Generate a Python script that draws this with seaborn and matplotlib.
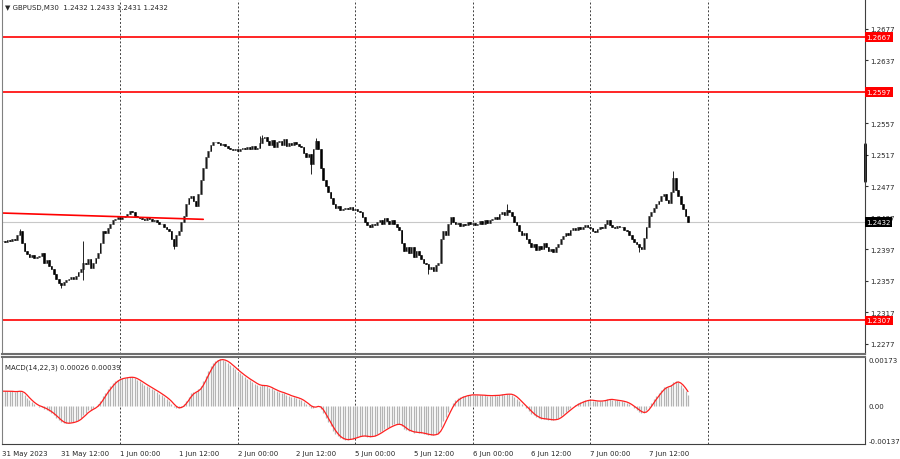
# GBPUSD M30 candlestick chart with support/resistance levels and MACD(14,22,3)

import matplotlib
matplotlib.use("Agg")
import matplotlib.pyplot as plt
import seaborn as sns
import numpy as np
import pandas as pd

base = 1.2000
# closes of each 30-minute bar, in pips above 1.2000 (31 May 00:00 .. 7 Jun 20:00)
close_pips = [
    408, 407, 409, 408, 410, 409, 416, 420, 405, 395,
    391, 388, 390, 386, 388, 389, 392, 380, 384, 376,
    372, 366, 360, 355, 352, 356, 358, 360, 362, 359,
    363, 368, 372, 380, 378, 385, 374, 380, 386, 392,
    405, 420, 418, 424, 430, 434, 436, 438, 436, 438,
    440, 442, 446, 444, 440, 438, 437, 436, 434, 438,
    436, 433, 435, 432, 430, 430, 425, 423, 420, 410,
    402, 415, 420, 432, 440, 455, 462, 465, 458, 452,
    468, 485, 500, 515, 522, 530, 534, 533, 532, 530,
    531, 528, 526, 525, 523, 524, 522, 525, 526, 524,
    527, 525, 528, 524, 526, 532, 538, 540, 535, 530,
    536, 527, 533, 535, 530, 537, 528, 532, 530, 533,
    531, 529, 527, 520, 515, 518, 505, 525, 535, 525,
    500, 485, 478, 470, 462, 455, 450, 452, 447, 449,
    450, 448, 451, 447, 449, 446, 445, 438, 432, 428,
    426, 430, 428, 432, 435, 430, 437, 433, 429, 434,
    430, 425, 422, 405, 395, 400, 392, 400, 388, 395,
    390, 385, 380, 378, 372, 375, 370, 377, 380, 410,
    420, 415, 430, 438, 432, 429, 431, 427, 430, 428,
    432, 429, 431, 428, 430, 433, 429, 434, 431, 435,
    436, 438, 436, 442, 445, 441, 447, 444, 440, 432,
    428, 420, 415, 418, 410, 405, 400, 404, 396, 402,
    398, 405, 400, 395, 398, 394, 400, 404, 410, 414,
    418, 416, 422, 424, 422, 426, 423, 426, 428, 425,
    424, 420, 419, 423, 425, 424, 430, 434, 428, 426,
    424, 427, 425, 426, 422, 420, 415, 410, 407, 404,
    400, 398, 412, 425, 440, 445, 450, 455, 458, 465,
    468, 460, 456, 470, 488, 472, 465, 455, 448, 440,
    432,
]
# notable wicks: bar index -> pips
wick_high = {7: 423, 33: 408, 105: 541, 106: 542, 128: 538, 206: 455, 274: 497}
wick_low = {24: 348, 33: 358, 70: 398, 126: 493, 174: 366, 260: 394}

levels = [1.2667, 1.2597, 1.2307]
last_price = 1.2432
trend_x = [-1, 82]
trend_y = [1.24434, 1.24353]
price_ticks = [1.2277, 1.2317, 1.2357, 1.2397, 1.2437, 1.2477, 1.2517, 1.2557, 1.2637, 1.2677]
time_labels = ["31 May 2023", "31 May 12:00", "1 Jun 00:00", "1 Jun 12:00", "2 Jun 00:00",
               "2 Jun 12:00", "5 Jun 00:00", "5 Jun 12:00", "6 Jun 00:00", "6 Jun 12:00",
               "7 Jun 00:00", "7 Jun 12:00"]
day_starts = [48, 96, 144, 192, 240, 288]
# EMA values carried in from before the window
ema_fast_seed = 1.2396
ema_slow_seed = 1.2391

df = pd.DataFrame({"close": base + np.array(close_pips) / 10000})
df["open"] = df["close"].shift(1).fillna(df["close"].iloc[0])
df["high"] = df[["open", "close"]].max(axis=1)
df["low"] = df[["open", "close"]].min(axis=1)
for k, v in wick_high.items():
    df.loc[k, "high"] = base + v / 10000
for k, v in wick_low.items():
    df.loc[k, "low"] = base + v / 10000
idx = np.arange(len(df))

# MACD(14,22,3): main = EMA14 - EMA22, signal = SMA3 of main
ef, es = ema_fast_seed, ema_slow_seed
macd = []
for c in df["close"]:
    ef = ef + 2 / 15 * (c - ef)
    es = es + 2 / 23 * (c - es)
    macd.append(ef - es)
df["macd"] = macd
df["signal"] = df["macd"].rolling(3, min_periods=1).mean()

sns.set_style("white")
plt.rcParams["font.family"] = ["DejaVu Sans"]

fig = plt.figure(figsize=(9, 4.6), dpi=100)
ax = fig.add_axes([2 / 900, 105 / 460, 863 / 900, 354 / 460])
axm = fig.add_axes([2 / 900, 15 / 460, 863 / 900, 87 / 460])

xmax = 352.3
ax.set_xlim(-0.2, xmax)
axm.set_xlim(-0.2, xmax)
ax.set_ylim(1.22643, 1.27138)
axm.set_ylim(-0.00137, 0.00173)

# candles
bull = df["close"] >= df["open"]
ax.vlines(idx, df["low"], df["high"], color="black", lw=0.6)
ax.bar(idx, (df["close"] - df["open"]).abs(), bottom=df[["open", "close"]].min(axis=1),
       width=0.7, color=np.where(bull, "#9a9a9a", "black"),
       edgecolor=np.where(bull, "#404040", "black"), linewidth=0.4)

for lv in levels:
    ax.axhline(lv, color="red", lw=1.2)
ax.axhline(last_price, color="#c8c8c8", lw=0.8, zorder=0)
ax.plot(trend_x, trend_y, color="red", lw=1.2)

for d in day_starts:
    ax.axvline(d, color="#404040", ls=(0, (2, 2)), lw=0.7, zorder=0)
    axm.axvline(d, color="#404040", ls=(0, (2, 2)), lw=0.7, zorder=0)

# price scale
ax.yaxis.tick_right()
ax.set_yticks(price_ticks)
ax.set_yticklabels([f"{p:.4f}" for p in price_ticks])
ax.tick_params(axis="y", labelsize=5, length=2.5, pad=1.5, color="#303030")
ax.set_xticks([])
for lv in levels:
    ax.text(1.0015, lv, f"{lv:.4f}", transform=ax.get_yaxis_transform(), fontsize=5,
            color="white", va="center", ha="left", clip_on=False, zorder=5,
            bbox=dict(boxstyle="square,pad=0.25", fc="red", ec="none"))
ax.text(1.0015, last_price, f"{last_price:.4f}", transform=ax.get_yaxis_transform(),
        fontsize=5, color="white", va="center", ha="left", clip_on=False, zorder=5,
        bbox=dict(boxstyle="square,pad=0.25", fc="black", ec="none"))
ax.plot([xmax, xmax], [1.2484, 1.2531], color="black", lw=2, clip_on=False)

ax.text(0.003, 0.99, "\u25bc GBPUSD,M30  1.2432 1.2433 1.2431 1.2432", transform=ax.transAxes,
        fontsize=5, va="top", ha="left")

# MACD
axm.vlines(idx, 0, df["macd"], color="#b4b4b4", lw=0.9)
sns.lineplot(x=idx, y=df["signal"], ax=axm, color="#ff2020", lw=0.9)
axm.set_ylabel("")
axm.set_yticks([])
axm.text(1.004, 1.0, "0.00173", transform=axm.transAxes, fontsize=5, va="top", ha="left")
axm.text(1.004, 0.0, "0.00", transform=axm.get_yaxis_transform(), fontsize=5, va="center", ha="left")
axm.text(1.004, 0.0, "-0.00137", transform=axm.transAxes, fontsize=5, va="bottom", ha="left")
axm.text(0.003, 0.93, "MACD(14,22,3) 0.00026 0.00039", transform=axm.transAxes,
         fontsize=5, va="top", ha="left")

axm.set_xticks(np.arange(0, 24 * len(time_labels), 24))
axm.set_xticklabels(time_labels, ha="left")
axm.tick_params(axis="x", labelsize=5, length=2.5, pad=1.5, color="#303030")

for a in (ax, axm):
    a.spines["top"].set_visible(False)
    a.spines["left"].set_color("#808080")
    a.spines["left"].set_linewidth(0.8)
    a.spines["right"].set_color("#404040")
    a.spines["right"].set_linewidth(0.8)
ax.spines["bottom"].set_color("#6e6e6e")
ax.spines["bottom"].set_linewidth(1.5)
axm.spines["top"].set_visible(True)
axm.spines["top"].set_color("#6e6e6e")
axm.spines["top"].set_linewidth(1.5)
axm.spines["bottom"].set_color("#404040")
axm.spines["bottom"].set_linewidth(0.8)

fig.savefig("out.png", dpi=100)
